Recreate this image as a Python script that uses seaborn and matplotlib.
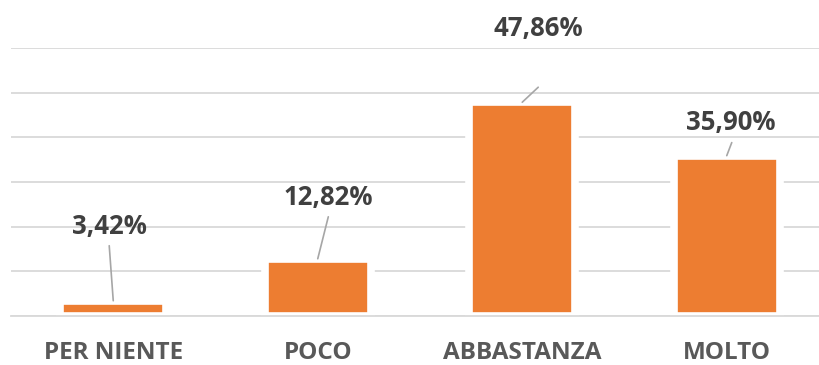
import numpy as np
import pandas as pd
import matplotlib
matplotlib.use("Agg")
import matplotlib.pyplot as plt
import seaborn as sns

# Data
categories = ["PER NIENTE", "POCO", "ABBASTANZA", "MOLTO"]
values = [3.42, 12.82, 47.86, 35.90]
value_labels = ["3,42%", "12,82%", "47,86%", "35,90%"]

# Label placement (offset points from bar top) and leader line ends
label_offsets = [(-2.9, 53.3), (7.6, 44.3), (11.5, 53.0), (2.9, 23.8)]
line_offsets = [(-2.9, 39.6), (7.6, 30.2), (11.5, 10.8), (3.6, 9.4)]

sns.set_style("white")
plt.rcParams['font.family'] = ['Open Sans', 'DejaVu Sans']

df = pd.DataFrame({"cat": categories, "val": values})

fig = plt.figure(figsize=(8.2, 3.65), dpi=100)
ax = fig.add_axes([11 / 820, 49 / 365, 818 / 820, 268 / 365])

grid_col = "#D9D9D9"
orange = "#ED7D31"

sns.barplot(data=df, x="cat", y="val", color=orange, saturation=1,
            width=0.52, edgecolor="white", linewidth=5.5, ax=ax, zorder=2)

ax.set_ylim(0, 60)
ax.set_xlim(-0.5, 3.5)
ax.set_yticks(np.arange(0, 61, 10))
ax.yaxis.grid(True, color=grid_col, linewidth=1.3, zorder=0)
ax.set_axisbelow(True)
ax.tick_params(axis="y", left=False, labelleft=False)

for s in ["top", "right", "left"]:
    ax.spines[s].set_visible(False)
ax.spines["bottom"].set_color(grid_col)
ax.spines["bottom"].set_linewidth(1.3)
ax.spines["bottom"].set_zorder(3)

ax.set_xticks(np.arange(-0.5, 4, 1), minor=True)
ax.tick_params(axis="x", which="minor", length=6, width=1.3, color=grid_col)
ax.tick_params(axis="x", which="major", length=0, pad=18)
for lab in ax.get_xticklabels():
    lab.set_fontweight("bold")
    lab.set_fontsize(17.5)
    lab.set_color("#595959")
ax.set_xlabel("")
ax.set_ylabel("")

for i, v in enumerate(values):
    ax.annotate("", xy=(i, v), xytext=line_offsets[i], textcoords="offset points",
                arrowprops=dict(arrowstyle="-", color="#A6A6A6", lw=1.2,
                                shrinkA=0, shrinkB=0), zorder=4)
    ax.annotate(value_labels[i], xy=(i, v), xytext=label_offsets[i],
                textcoords="offset points", ha="center", va="center",
                fontsize=18.5, fontweight="bold", color="#404040",
                annotation_clip=False)

fig.savefig("out.png", dpi=100)
